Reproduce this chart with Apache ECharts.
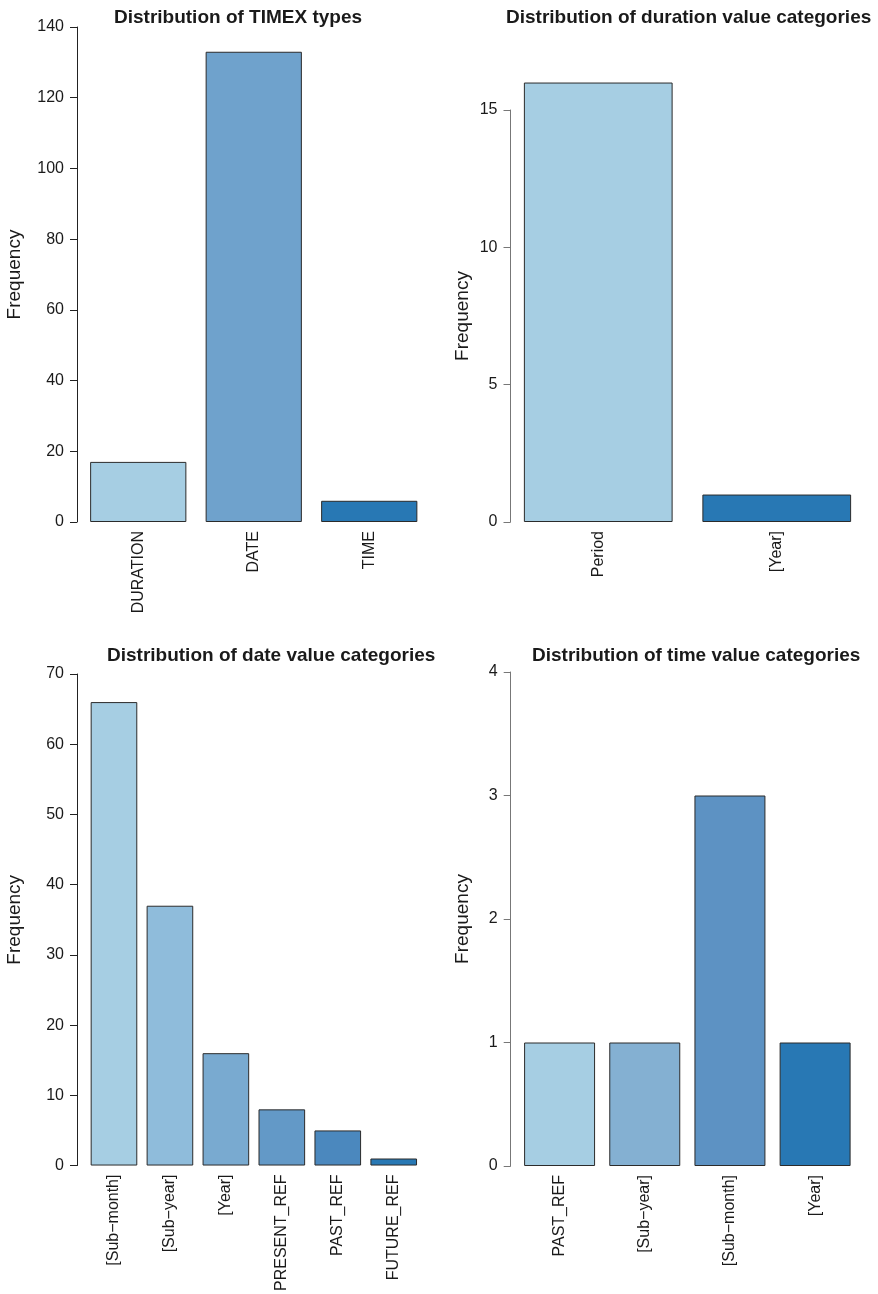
<!DOCTYPE html>
<html>
<head>
<meta charset="utf-8">
<script src="https://cdn.jsdelivr.net/npm/echarts@6/dist/echarts.min.js"></script>
<style>
html,body{margin:0;padding:0;background:#fff;}
#chart{width:878px;height:1294px;}
</style>
</head>
<body>
<div id="chart"></div>
<script>
// ---- data ----
const typeCats = ['DURATION', 'DATE', 'TIME'];
const typeVals = [17, 133, 6];
const typeColors = ['#A6CEE3', '#6FA2CC', '#2878B4'];

const durCats = ['Period', '[Year]'];
const durVals = [16, 1];
const durColors = ['#A6CEE3', '#2878B4'];

const dateCats = ['[Sub\u2212month]', '[Sub\u2212year]', '[Year]', 'PRESENT_REF', 'PAST_REF', 'FUTURE_REF'];
const dateVals = [66, 37, 16, 8, 5, 1];
const dateColors = ['#A6CEE3', '#8FBCDB', '#79AAD0', '#6399C7', '#4B88BE', '#2878B4'];

const timeCats = ['PAST_REF', '[Sub\u2212year]', '[Sub\u2212month]', '[Year]'];
const timeVals = [1, 1, 3, 1];
const timeColors = ['#A6CEE3', '#84B0D2', '#5D92C3', '#2878B4'];

const titles = ['Distribution of TIMEX types', 'Distribution of duration value categories',
                'Distribution of date value categories', 'Distribution of time value categories'];
const yMax = [140, 15, 70, 4];
const yStep = [20, 5, 10, 1];

// ---- layout ----
const FONT = 'Liberation Sans, Arial, Helvetica, sans-serif';
const TXT = '#1a1a1a';
const grids = [
  {left: 80.5, top: 27, width: 346.5, height: 495},
  {left: 509, top: 110, width: 357, height: 412},
  {left: 86, top: 674, width: 335.7, height: 492},
  {left: 517, top: 672, width: 340.7, height: 494}
];
const yOffsets = [3.5, -1.5, 9, 6.3];
const nameGaps = [53, 38, 53, 38];
const axisColors = ['#222', '#777', '#222', '#777'];
const titlePos = [{left: 114, top: 8}, {left: 506, top: 8}, {left: 107, top: 646}, {left: 532, top: 646}];

const cats = [typeCats, durCats, dateCats, timeCats];
const vals = [typeVals, durVals, dateVals, timeVals];
const cols = [typeColors, durColors, dateColors, timeColors];

const option = {
  backgroundColor: '#fff',
  animation: false,
  title: titles.map((t, i) => ({
    text: t, left: titlePos[i].left, top: titlePos[i].top, padding: 0,
    textStyle: {fontFamily: FONT, fontSize: 19, fontWeight: 'bold', color: TXT}
  })),
  grid: grids,
  xAxis: cats.map((c, i) => ({
    type: 'category', gridIndex: i, data: c,
    axisLine: {show: false}, axisTick: {show: false},
    axisLabel: {rotate: 90, margin: 9, fontFamily: FONT, fontSize: 16, color: TXT, interval: 0}
  })),
  yAxis: yMax.map((m, i) => ({
    type: 'value', gridIndex: i, min: 0, max: m, interval: yStep[i],
    offset: yOffsets[i],
    name: 'Frequency', nameLocation: 'middle', nameGap: nameGaps[i],
    nameTextStyle: {fontFamily: FONT, fontSize: 19, color: TXT},
    axisLine: {show: true, lineStyle: {color: axisColors[i], width: 1}},
    axisTick: {show: true, length: 7, lineStyle: {color: axisColors[i], width: 1}},
    splitLine: {show: false},
    axisLabel: {margin: 13, fontFamily: FONT, fontSize: 16, color: TXT}
  })),
  series: vals.map((v, i) => ({
    type: 'bar', xAxisIndex: i, yAxisIndex: i,
    barCategoryGap: '16.67%', clip: false,
    data: v.map((y, j) => ({value: y, itemStyle: {color: cols[i][j]}})),
    itemStyle: {borderColor: '#2b2b2b', borderWidth: 1}
  }))
};

const chart = echarts.init(document.getElementById('chart'), null, {renderer: 'canvas'});
chart.setOption(option);
</script>
</body>
</html>
